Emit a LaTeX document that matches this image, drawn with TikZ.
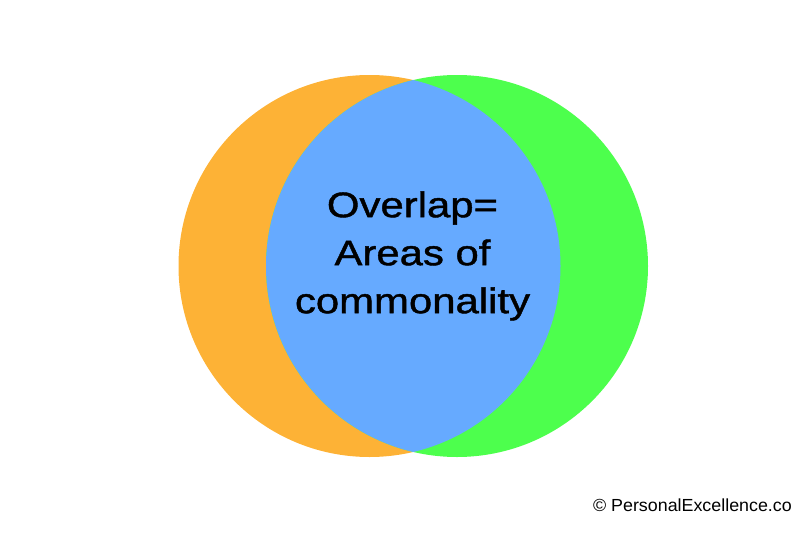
\documentclass[tikz,border=0pt]{standalone}
\usepackage{fontspec}
\setmainfont{Liberation Sans}
\newfontfamily\widefont[FakeStretch=1.18, FakeBold=1.2]{Liberation Sans}
\newfontfamily\creditfont[FakeStretch=1.02]{Liberation Sans}

\begin{document}
\begin{tikzpicture}[x=1pt, y=-1pt]

% parameters %{{{1

	\def\rad{191}
	\definecolor{setorange}{RGB}{253,178,54}
	\definecolor{setgreen}{RGB}{77,255,77}
	\definecolor{setblue}{RGB}{102,170,255}

% canvas %{{{1

	\useasboundingbox (0,0) rectangle (800,533);

% coordinates %{{{1

	\coordinate (L) at (369.5,266);
	\coordinate (R) at (457,266);

% circles %{{{1

	\fill[setorange] (L) circle (\rad);
	\fill[setgreen]  (R) circle (\rad);

% overlap %{{{1

	\begin{scope}
		\clip (L) circle (\rad);
		\fill[setblue] (R) circle (\rad);
	\end{scope}

% labels %{{{1

	\node[align=center, inner sep=0pt, font=\widefont\fontsize{35.5}{48}\selectfont]
		(overlap) at (412.5,256) {Overlap=\\Areas of\\commonality};

	\node[anchor=base east, inner sep=0pt, font=\creditfont\fontsize{17.5}{20}\selectfont]
		(credit) at (792,511) {© PersonalExcellence.co};

% closing %{{{1

\end{tikzpicture}
\end{document}
